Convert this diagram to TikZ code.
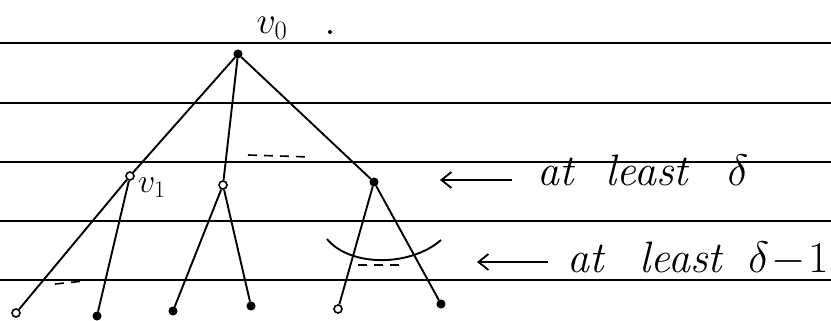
\RequirePackage{fix-cm}
\documentclass[tikz,border=0pt]{standalone}
\usepackage{amsmath}
\usepackage{amssymb}
\usepackage{tikz}
\usetikzlibrary{arrows.meta, positioning}

\begin{document}
\begin{tikzpicture}[x=1pt, y=-1pt,
        vtx/.style={circle, draw, fill=black, line width=1pt, inner sep=0pt, minimum size=8pt},
        hollow/.style={circle, draw, fill=white, line width=1.6pt, inner sep=0pt, minimum size=8pt},
        edge/.style={line width=1.9pt},
        gap/.style={line width=1.6pt, dash pattern=on 9pt off 7pt},
        rule/.style={line width=1.2pt},
        hand/.style={font=\itshape\fontsize{44}{48}\selectfont, inner sep=0pt, anchor=base west},
        pointer/.style={line width=1.8pt, -{Straight Barb[length=10pt, width=16pt, line width=1.8pt]}}]
        \useasboundingbox (0,0) rectangle (831,321);

        % Ruled lines
        \foreach \y in {43, 103, 162, 221, 280}
            \draw[rule] (0,\y) -- (831,\y);

        % Root and first level
        \node[vtx] (v0) at (238,54) {};
        \node[hollow] (v1) at (130,176) {};
        \node[hollow] (w) at (223,185) {};
        \node[vtx] (u) at (374,182) {};

        % Leaves
        \node[hollow] (l1) at (16,313) {};
        \node[vtx] (l2) at (97,316) {};
        \node[vtx] (l3) at (173,311) {};
        \node[vtx] (l4) at (251,306) {};
        \node[hollow] (l5) at (338,309) {};
        \node[vtx] (l6) at (441,304) {};

        % Edges
        \draw[edge] (v0) -- (v1);
        \draw[edge] (v0) -- (w);
        \draw[edge] (v0) -- (u);
        \draw[edge] (v1) -- (l1);
        \draw[edge] (v1) -- (l2);
        \draw[edge] (w) -- (l3);
        \draw[edge] (w) -- (l4);
        \draw[edge] (u) -- (l5);
        \draw[edge] (u) -- (l6);

        % Labels
        \node[font=\fontsize{38}{42}\selectfont, inner sep=0pt] (lv0) at (272,28) {$v_0$};
        \fill (330,32) circle (2);
        \node[font=\fontsize{34}{38}\selectfont, inner sep=0pt, right=3pt of v1, yshift=-12pt] (lv1) {$v_1$};

        % Dots between the subtrees
        \draw[gap] (248,155) -- (310,157);
        \draw[gap] (55,284) -- (84,281);
        \draw[gap] (200,280) -- (232,280);
        \draw[gap] (358,265) -- (400,265);

        % Arc over the children of u
        \draw[edge] (327,239) .. controls (350,267) and (410,267) .. (441,240);

        % Degree notes
        \node[hand] (t1) at (537,185) {at\hspace{0.73em}least\hspace{0.9em}$\delta$};
        \coordinate (tail1) at (512,180);
        \coordinate (tip1) at (440,180);
        \draw[pointer] (tail1) -- (tip1);

        \node[hand] (t2) at (567,272) {at\hspace{0.82em}least\hspace{0.6em}$\delta\!-\!1$};
        \coordinate (tail2) at (548,262);
        \coordinate (tip2) at (477,262);
        \draw[pointer] (tail2) -- (tip2);
    \end{tikzpicture}
\end{document}
